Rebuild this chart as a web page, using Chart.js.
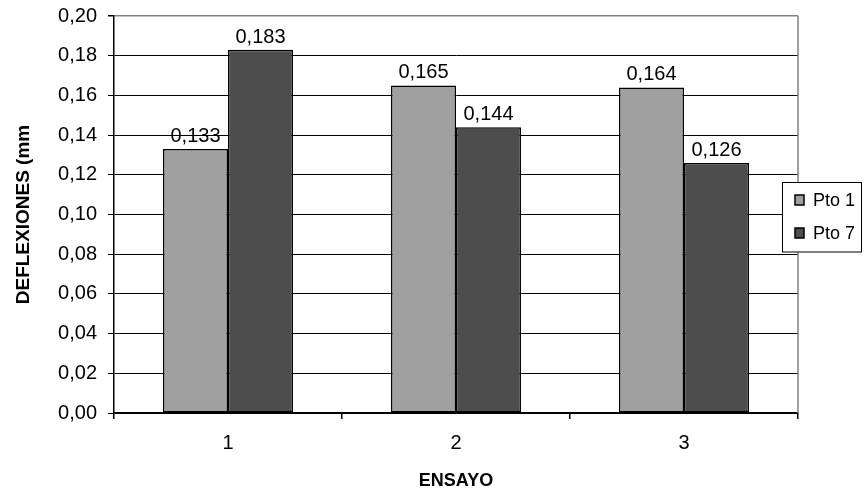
<!DOCTYPE html>
<html>
<head>
<meta charset="utf-8">
<script src="https://cdn.jsdelivr.net/npm/chart.js@4.4.0/dist/chart.umd.min.js"></script>
<style>
  html, body { margin: 0; padding: 0; background: #ffffff; }
  canvas { display: block; }
</style>
</head>
<body>
<canvas id="c" width="868" height="488"></canvas>
<script>
// Deflection per test run, two measuring points
const ensayos = ['1', '2', '3'];
const pto1 = [0.133, 0.165, 0.164];
const pto7 = [0.183, 0.144, 0.126];
const yTickLabels = ['0,00', '0,02', '0,04', '0,06', '0,08', '0,10', '0,12', '0,14', '0,16', '0,18', '0,20'];

const FONT = "'Liberation Sans', Arial, sans-serif";

// value labels above each bar
const valueLabels = {
  id: 'valueLabels',
  afterDatasetsDraw(chart) {
    const ctx = chart.ctx;
    ctx.save();
    ctx.font = '20px ' + FONT;
    ctx.fillStyle = '#000';
    ctx.textAlign = 'center';
    ctx.textBaseline = 'alphabetic';
    chart.data.datasets.forEach((ds, di) => {
      const meta = chart.getDatasetMeta(di);
      meta.data.forEach((bar, i) => {
        const txt = ds.data[i].toFixed(3).replace('.', ',');
        ctx.fillText(txt, bar.x, bar.y - 7);
      });
    });
    ctx.restore();
  }
};

// grey frame on the right of the plot area and the boxed legend
const frameAndLegend = {
  id: 'frameAndLegend',
  afterDraw(chart) {
    const ctx = chart.ctx;
    const a = chart.chartArea;
    ctx.save();
    ctx.strokeStyle = '#808080';
    ctx.lineWidth = 1.5;
    ctx.beginPath();
    ctx.moveTo(a.right, a.top);
    ctx.lineTo(a.right, a.bottom);
    ctx.stroke();

    // legend box
    const bx = 782.5, by = 182.5, bw = 79, bh = 69.5;
    ctx.fillStyle = '#fff';
    ctx.fillRect(bx, by, bw, bh);
    ctx.strokeStyle = '#000';
    ctx.lineWidth = 1;
    ctx.strokeRect(bx, by, bw, bh);
    ctx.font = '18px ' + FONT;
    ctx.textAlign = 'left';
    ctx.textBaseline = 'middle';
    chart.data.datasets.forEach((ds, i) => {
      const cy = 200 + i * 33;
      ctx.fillStyle = ds.backgroundColor;
      ctx.fillRect(795, cy - 5, 9, 10);
      ctx.strokeStyle = '#000';
      ctx.lineWidth = 1.5;
      ctx.strokeRect(795, cy - 5, 9, 10);
      ctx.fillStyle = '#000';
      ctx.fillText(ds.label, 813, cy + 1);
    });
    ctx.restore();
  }
};

new Chart(document.getElementById('c'), {
  type: 'bar',
  data: {
    labels: ensayos,
    datasets: [
      { label: 'Pto 1', data: pto1, backgroundColor: '#a0a0a0', borderColor: '#000', borderWidth: 1.5, borderSkipped: false },
      { label: 'Pto 7', data: pto7, backgroundColor: '#4d4d4d', borderColor: '#000', borderWidth: 1.5, borderSkipped: false }
    ]
  },
  options: {
    responsive: false,
    devicePixelRatio: 1,
    animation: false,
    categoryPercentage: 0.57,
    barPercentage: 1.0,
    layout: { padding: { left: 0, top: 16, right: 70, bottom: 0 } },
    plugins: {
      legend: { display: false },
      tooltip: { enabled: false }
    },
    scales: {
      x: {
        afterFit(scale) {
          scale.height = 75;
          scale.paddingLeft = 0;
          scale.paddingRight = 0;
        },
        grid: {
          offset: true,
          drawOnChartArea: false,
          drawTicks: true,
          tickLength: 6,
          color: '#000',
          tickColor: '#000',
          lineWidth: 1.5
        },
        border: { color: '#000', width: 1.5 },
        ticks: { color: '#000', font: { family: FONT, size: 20 }, padding: 12 },
        title: {
          display: true,
          text: 'ENSAYO',
          color: '#000',
          font: { family: FONT, size: 18, weight: 'bold', lineHeight: 0.8 },
          padding: { top: 0, bottom: 0 }
        }
      },
      y: {
        min: 0,
        max: 0.2,
        afterFit(scale) {
          scale.width = 114;
          scale.paddingTop = 0;
          scale.paddingBottom = 0;
        },
        afterBuildTicks(scale) {
          scale.ticks = yTickLabels.map((_, i) => ({ value: i * 0.02 }));
        },
        grid: {
          color: (c) => (c.index === yTickLabels.length - 1 ? '#808080' : '#000'),
          tickColor: '#000',
          lineWidth: (c) => (c.index === yTickLabels.length - 1 ? 1.5 : 1),
          tickLength: 6
        },
        border: { color: '#000', width: 1.5 },
        ticks: {
          color: '#000',
          font: { family: FONT, size: 20 },
          padding: 11,
          callback: (v, i) => yTickLabels[i]
        },
        title: {
          display: true,
          text: 'DEFLEXIONES (mm',
          color: '#000',
          font: { family: FONT, size: 19, weight: 'bold', lineHeight: 1.2 },
          padding: { top: 12, bottom: 0 }
        }
      }
    }
  },
  plugins: [valueLabels, frameAndLegend]
});
</script>
</body>
</html>
